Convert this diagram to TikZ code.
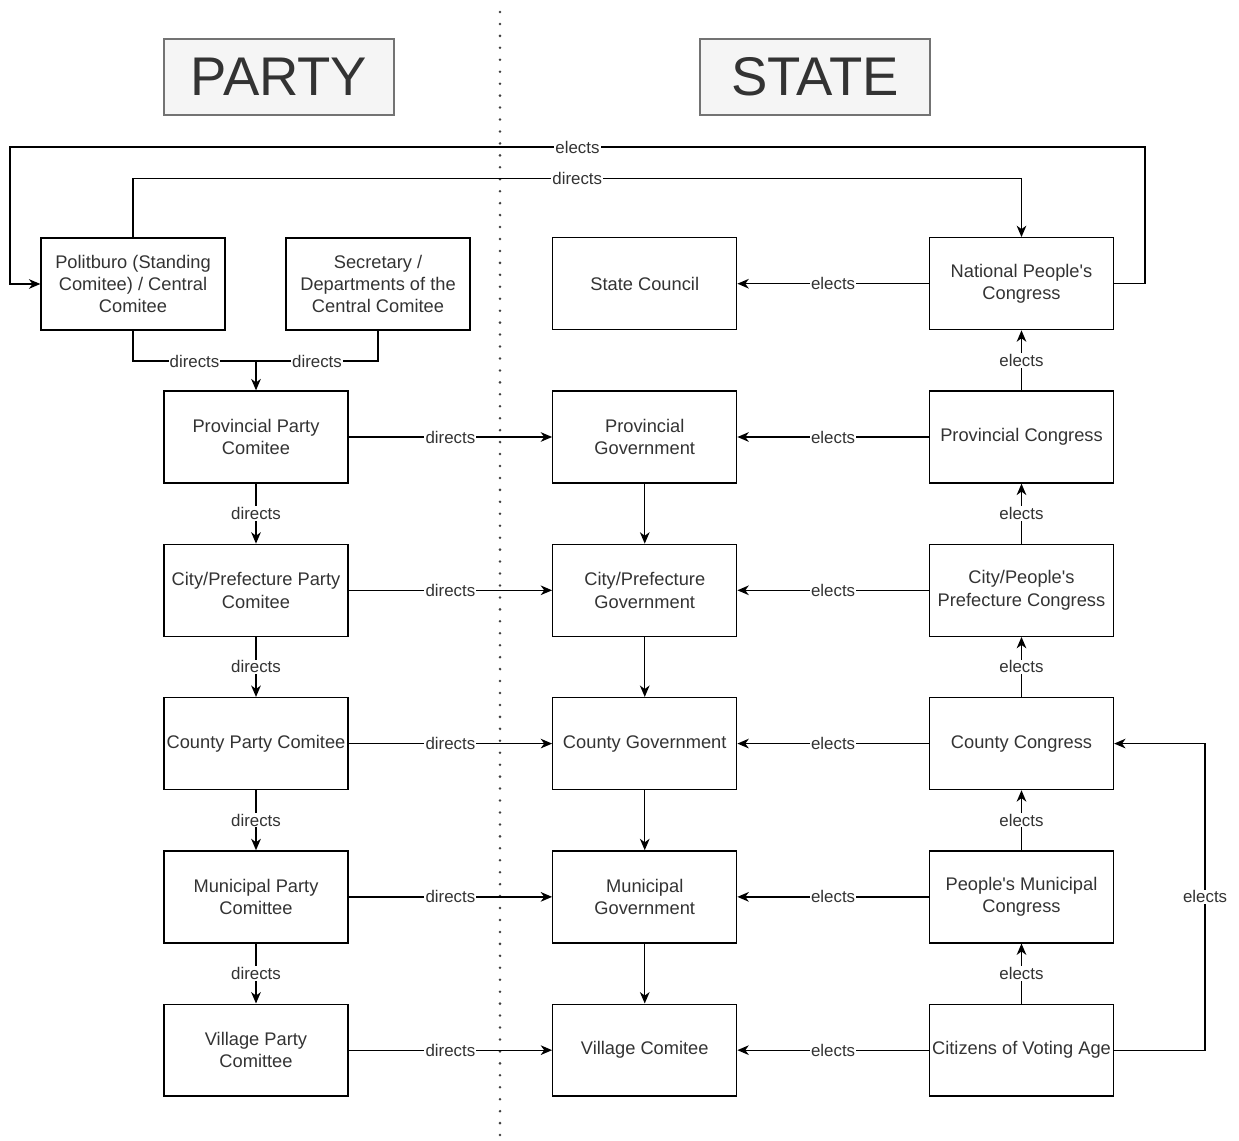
\documentclass[tikz,border=0pt]{standalone}
\usepackage{fontspec}
\setmainfont{Liberation Sans}
\usetikzlibrary{arrows.meta, positioning}

\newcommand{\apos}{\textquotesingle}

\begin{document}
\begin{tikzpicture}[
      x = 0.02cm, y = -0.02cm,     % one unit per pixel, y pointing down
      > = {Stealth[length=6.5pt, width=5.5pt, inset=2pt]}, % arrow head style
      line width = 0.75pt,         % connector width
      node distance = 1.2cm        % gap between rows
    ]

    \tikzstyle{B1}=[      % Defines style for the boxes
      draw,
      align = center,
      text = black!80,
      inner xsep = 0.5pt,
      minimum width = 3.68cm,
      minimum height = 1.84cm,
      font = \fontsize{10.4}{12.75}\selectfont
    ]

    \tikzstyle{H1}=[      % Defines style for the headers
      draw = black!55,
      fill = black!4,
      text = black!80,
      minimum width = 4.6cm,
      minimum height = 1.52cm,
      font = \fontsize{31}{36}\selectfont
    ]

    \tikzstyle{L1}=[      % Defines style for the edge labels
      fill = white,
      text = black!80,
      inner sep = 0.6pt,
      font = \fontsize{9.6}{11}\selectfont
    ]

    \useasboundingbox (0,0) rectangle (1239,1141);

    % Dotted separator
    \draw[black!75, line width=1.6pt, line cap=round, dash pattern=on 0pt off 6.8pt]
      (500,12) -- (500,1138);

    % Headers
    \node[H1] (party) at (279,77) {PARTY};
    \node[H1] (state) at (815,77) {STATE};

    % Definition of the nodes
    \node[B1] (ppc) at (256,437) {Provincial Party\\Comitee};
    \node[B1] (pgov) [right=4.07cm of ppc] {Provincial\\Government};
    \node[B1] (pcon) [right=3.83cm of pgov] {Provincial Congress};

    \node[B1] (cpc) [below=of ppc] {City/Prefecture Party\\Comitee};
    \node[B1] (cgov) [below=of pgov] {City/Prefecture\\Government};
    \node[B1] (ccon) [below=of pcon] {City/People\apos s\\Prefecture Congress};

    \node[B1] (kpc) [below=of cpc] {County Party Comitee};
    \node[B1] (kgov) [below=of cgov] {County Government};
    \node[B1] (kcon) [below=of ccon] {County Congress};

    \node[B1] (mpc) [below=of kpc] {Municipal Party\\Comittee};
    \node[B1] (mgov) [below=of kgov] {Municipal\\Government};
    \node[B1] (mcon) [below=of kcon] {People\apos s Municipal\\Congress};

    \node[B1] (vpc) [below=of mpc] {Village Party\\Comittee};
    \node[B1] (vcom) [below=of mgov] {Village Comitee};
    \node[B1] (voters) [below=of mcon] {Citizens of Voting Age};

    \node[B1] (polit) at (133,284) {Politburo (Standing\\Comitee) / Central\\Comitee};
    \node[B1] (secr) at (378,284) {Secretary /\\Departments of the\\Central Comitee};
    \node[B1] (council) [above=1.2cm of pgov] {State Council};
    \node[B1] (npc) [above=1.2cm of pcon] {National People\apos s\\Congress};

    \coordinate (join) at (256,361);

    % Definition of the edges
    \draw[->] (npc.east) -| (1145,147) -- node[L1] {elects} (10,147) |- (polit.west);
    \draw[->] (polit.north) -- ++(0,-59) -| node[L1, pos=0.25] {directs} (npc.north);
    \draw (polit.south) |- node[L1, pos=0.75] {directs} (join);
    \draw (secr.south) |- node[L1, pos=0.75] {directs} (join);
    \draw[->] (join) -- (ppc.north);
    \path[->] (npc) edge node[L1] {elects} (council);

    \path[->] (ppc) edge node[L1] {directs} (pgov);
    \path[->] (cpc) edge node[L1] {directs} (cgov);
    \path[->] (kpc) edge node[L1] {directs} (kgov);
    \path[->] (mpc) edge node[L1] {directs} (mgov);
    \path[->] (vpc) edge node[L1] {directs} (vcom);

    \path[->] (ppc) edge node[L1] {directs} (cpc);
    \path[->] (cpc) edge node[L1] {directs} (kpc);
    \path[->] (kpc) edge node[L1] {directs} (mpc);
    \path[->] (mpc) edge node[L1] {directs} (vpc);

    \path[->] (pgov) edge (cgov);
    \path[->] (cgov) edge (kgov);
    \path[->] (kgov) edge (mgov);
    \path[->] (mgov) edge (vcom);

    \path[->] (pcon) edge node[L1] {elects} (pgov);
    \path[->] (ccon) edge node[L1] {elects} (cgov);
    \path[->] (kcon) edge node[L1] {elects} (kgov);
    \path[->] (mcon) edge node[L1] {elects} (mgov);
    \path[->] (voters) edge node[L1] {elects} (vcom);

    \path[->] (pcon) edge node[L1] {elects} (npc);
    \path[->] (ccon) edge node[L1] {elects} (pcon);
    \path[->] (kcon) edge node[L1] {elects} (ccon);
    \path[->] (mcon) edge node[L1] {elects} (kcon);
    \path[->] (voters) edge node[L1] {elects} (mcon);

    \draw[->] (voters.east) -- ++(91,0) |- node[L1, pos=0.25] {elects} (kcon.east);

\end{tikzpicture}
\end{document}
